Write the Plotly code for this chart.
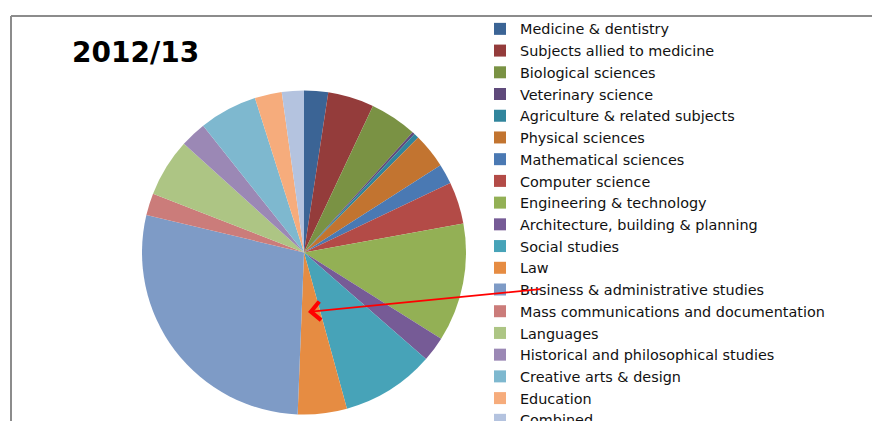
import plotly.graph_objects as go

title_text = "2012/13"

categories = [
    "Medicine & dentistry",
    "Subjects allied to medicine",
    "Biological sciences",
    "Veterinary science",
    "Agriculture & related subjects",
    "Physical sciences",
    "Mathematical sciences",
    "Computer science",
    "Engineering & technology",
    "Architecture, building & planning",
    "Social studies",
    "Law",
    "Business & administrative studies",
    "Mass communications and documentation",
    "Languages",
    "Historical and philosophical studies",
    "Creative arts & design",
    "Education",
    "Combined",
]

shares = [2.4, 4.6, 4.7, 0.25, 0.5, 3.5, 2.0, 4.2, 11.8, 2.5, 9.3, 4.9,
          28.1, 2.2, 5.8, 2.6, 5.8, 2.7, 2.2]

colors = ["#3B6495", "#943C3B", "#7A9244", "#5F4A7B", "#31859C", "#C27430",
          "#4A79B3", "#B34B47", "#93B055", "#765B96", "#47A3B8", "#E68C42",
          "#7E9BC6", "#CB7C7A", "#ADC584", "#9B88B5", "#7EB8CF", "#F6AC7C",
          "#B4C3DF"]

# the page body adds an 8px offset; layout positions below are given in
# figure pixels (page pixels - 8). The figure runs past the window bottom
# so the last legend entry is cut off by the window as in the reference.
W, H = 872, 440
cx, cy, r = 296, 244.5, 162

fig = go.Figure(go.Pie(
    labels=categories,
    values=shares,
    marker=dict(colors=colors, line=dict(width=0)),
    sort=False,
    direction="clockwise",
    rotation=0,
    textinfo="none",
    hoverinfo="label+percent",
    domain=dict(x=[(cx - r) / W, (cx + r) / W], y=[(H - cy - r) / H, (H - cy + r) / H]),
))

fig.update_layout(
    width=W, height=H,
    margin=dict(l=0, r=0, t=0, b=0),
    paper_bgcolor="white",
    plot_bgcolor="white",
    title=dict(text="<b>" + title_text + "</b>", x=64 / W, xanchor="left",
               y=(H - 44) / H, yanchor="middle", xref="paper", yref="paper",
               font=dict(family="DejaVu Sans", size=28, color="black")),
    legend=dict(x=472 / W, xanchor="left", y=(H - 5) / H, yanchor="top",
                font=dict(family="DejaVu Sans", size=14.4, color="#111111"),
                bgcolor="rgba(0,0,0,0)", traceorder="normal", maxheight=2000),
    shapes=[
        dict(type="line", xref="paper", yref="paper", x0=3 / W, x1=1.0,
             y0=(H - 8) / H, y1=(H - 8) / H, line=dict(color="#8c8c8c", width=2)),
        dict(type="line", xref="paper", yref="paper", x0=3 / W, x1=3 / W,
             y0=(H - 8) / H, y1=0, line=dict(color="#8c8c8c", width=2)),
    ],
)

# arrow from the legend entry to the highlighted slice
fig.add_annotation(
    x=300 / W, y=(H - 304) / H, xref="paper", yref="paper",
    text="", showarrow=True, ax=234, ay=-23,
    arrowcolor="#ff0000", arrowwidth=1.8, arrowhead=4, arrowsize=2,
    standoff=0, startstandoff=0,
)

fig.write_html("out.html")
